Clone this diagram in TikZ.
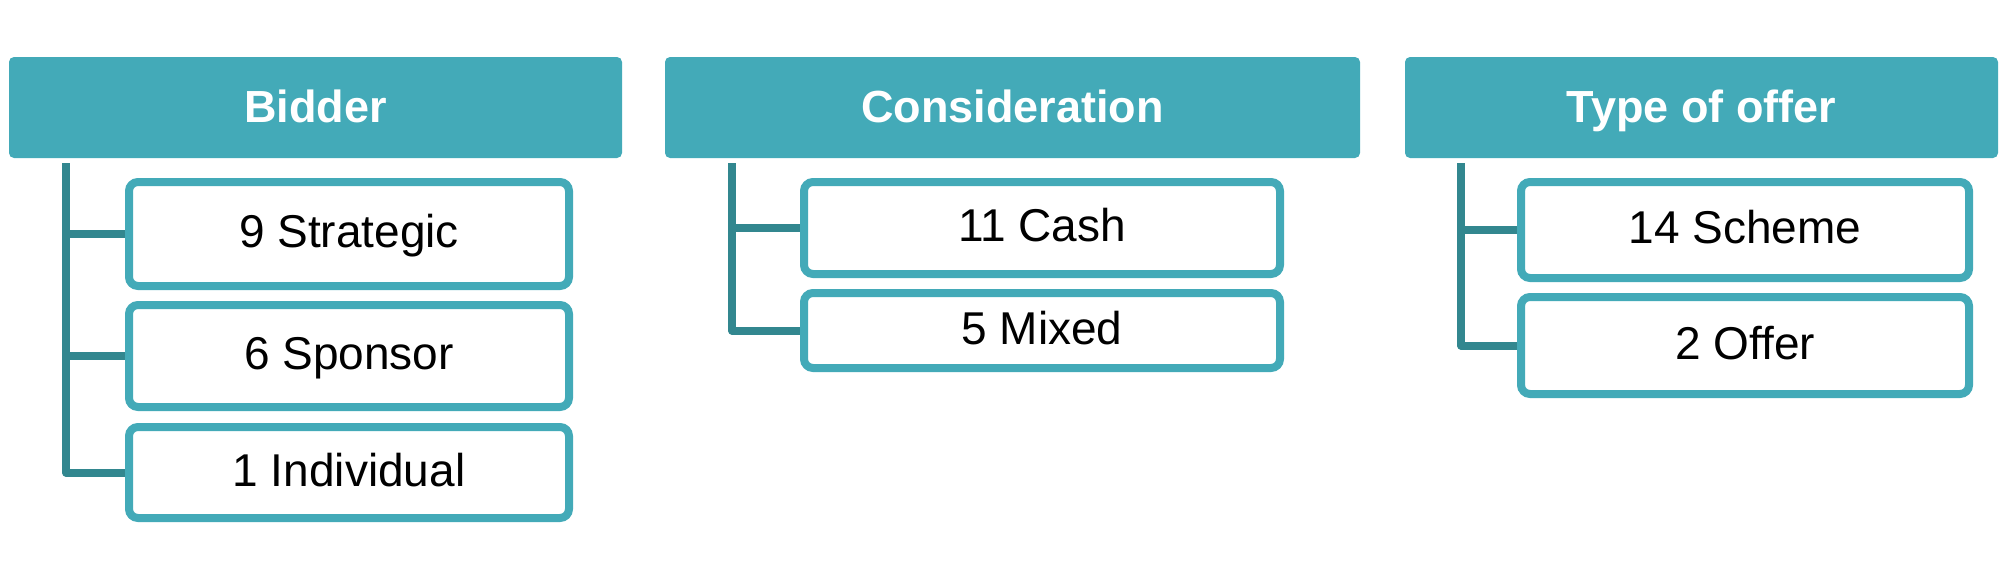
\documentclass[tikz,border=0pt]{standalone}
\usepackage{fontspec}
\setmainfont{Liberation Sans}
\usetikzlibrary{backgrounds}
\definecolor{headteal}{RGB}{67,170,184}
\definecolor{trunkteal}{RGB}{50,135,143}

\begin{document}
\begin{tikzpicture}[x=1pt,y=-1pt,
    head/.style={fill=headteal,rounded corners=5pt,inner sep=0pt,text=white,
      text height=32pt,text depth=3pt,font=\fontsize{45}{54}\selectfont\bfseries},
    item/.style={draw=headteal,line width=8pt,fill=white,rounded corners=9pt,inner sep=0pt,
      text height=33pt,text depth=6pt,font=\fontsize{46}{55}\selectfont},
    trunk/.style={draw=trunkteal,line width=8pt,line join=round}]
  \useasboundingbox (0,0) rectangle (2004,570);

  \node[head,minimum width=613pt,minimum height=101pt] (bidder) at (315.5,107.5) {Bidder};
  \node[head,minimum width=695pt,minimum height=101pt] (consid) at (1012.5,107.5) {Consideration};
  \node[head,minimum width=593pt,minimum height=101pt] (offertype) at (1701.5,107.5) {Type of offer};

  \node[item,minimum width=440pt,minimum height=104pt] (strat) at (349,234) {9 Strategic};
  \node[item,minimum width=440pt,minimum height=102pt] (spons) at (349,356) {6 Sponsor};
  \node[item,minimum width=440pt,minimum height=91pt] (indiv) at (349,472.5) {1 Individual};

  \node[item,minimum width=476pt,minimum height=92pt] (cash) at (1042,228) {11 Cash};
  \node[item,minimum width=476pt,minimum height=75pt] (mixed) at (1042,330.5) {5 Mixed};

  \node[item,minimum width=448pt,minimum height=96pt] (scheme) at (1745,230) {14 Scheme};
  \node[item,minimum width=448pt,minimum height=97pt] (offer) at (1745,345.5) {2 Offer};

  \coordinate (bidtop) at (66,163);
  \coordinate (considtop) at (732,163);
  \coordinate (offertop) at (1461,163);

  \begin{pgfonlayer}{background}
    \draw[trunk] (bidtop) |- (indiv.west);
    \draw[trunk] (bidtop |- strat.west) -- (strat.west);
    \draw[trunk] (bidtop |- spons.west) -- (spons.west);
    \draw[trunk] (considtop) |- (mixed.west);
    \draw[trunk] (considtop |- cash.west) -- (cash.west);
    \draw[trunk] (offertop) |- (offer.west);
    \draw[trunk] (offertop |- scheme.west) -- (scheme.west);
  \end{pgfonlayer}
\end{tikzpicture}
\end{document}
